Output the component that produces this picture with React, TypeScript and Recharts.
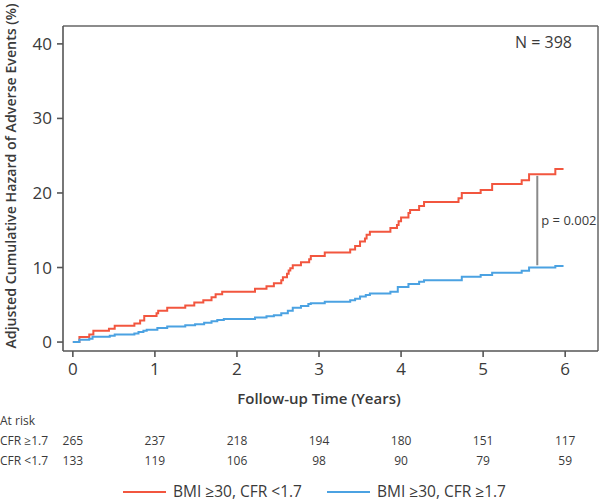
import { Line, LineChart, ReferenceLine, XAxis, YAxis } from "recharts";

const FONT = "'Open Sans', sans-serif";
const INK = "#3a3a3a";
const RED = "#f2563f";
const BLUE = "#4ba2e2";

const yearTicks = [0, 1, 2, 3, 4, 5, 6];
const hazardTicks = [0, 10, 20, 30, 40];

// BMI >=30, CFR <1.7 (red)
const redYears = [
  0, 0.08, 0.2, 0.25, 0.44, 0.51, 0.75, 0.82, 0.87, 1.02, 1.04, 1.15, 1.37, 1.48,
  1.59, 1.69, 1.74, 1.82, 2.22, 2.36, 2.45, 2.54, 2.56, 2.61, 2.63, 2.65, 2.68,
  2.78, 2.88, 2.9, 3.07, 3.38, 3.44, 3.5, 3.56, 3.58, 3.62, 3.87, 3.95, 3.97, 4.0,
  4.09, 4.11, 4.22, 4.28, 4.7, 4.74, 4.97, 5.11, 5.47, 5.56, 5.88, 5.98,
];
const redHazard = [
  0, 0.67, 1.0, 1.5, 1.8, 2.2, 2.5, 2.9, 3.5, 3.85, 4.2, 4.6, 4.9, 5.3, 5.6, 6.0,
  6.4, 6.75, 7.15, 7.5, 7.9, 8.3, 8.7, 9.15, 9.6, 9.9, 10.3, 10.7, 11.1, 11.55,
  12.0, 12.4, 12.9, 13.5, 13.9, 14.4, 14.8, 15.3, 15.7, 16.2, 16.7, 17.3, 17.7,
  18.25, 18.8, 19.3, 20.0, 20.4, 21.2, 21.7, 22.5, 23.2, 23.2,
];

// BMI >=30, CFR >=1.7 (blue)
const blueYears = [
  0, 0.08, 0.2, 0.24, 0.45, 0.51, 0.75, 0.8, 0.86, 0.9, 1.03, 1.15, 1.37, 1.49,
  1.6, 1.69, 1.76, 1.84, 2.22, 2.36, 2.45, 2.54, 2.62, 2.68, 2.78, 2.87, 2.9, 3.07,
  3.38, 3.44, 3.5, 3.57, 3.62, 3.87, 3.96, 4.09, 4.22, 4.28, 4.74, 4.97, 5.11,
  5.47, 5.56, 5.88, 5.98,
];
const blueHazard = [
  0, 0.3, 0.45, 0.7, 0.85, 1.0, 1.15, 1.35, 1.5, 1.65, 1.9, 2.1, 2.25, 2.4, 2.6,
  2.8, 2.95, 3.1, 3.3, 3.45, 3.6, 3.85, 4.2, 4.6, 4.85, 5.1, 5.2, 5.4, 5.6, 5.8,
  6.1, 6.3, 6.5, 6.75, 7.4, 7.8, 8.1, 8.3, 8.75, 9.0, 9.3, 9.55, 10.0, 10.2, 10.2,
];

const riskHighCfr = [265, 237, 218, 194, 180, 151, 117];
const riskLowCfr = [133, 119, 106, 98, 90, 79, 59];

const pYear = 5.66;
const pTop = 22.3;
const pBottom = 10.3;

const X_DOMAIN: [number, number] = [-0.12, 6.4];
const Y_DOMAIN: [number, number] = [-1.2, 42.4];

const redData = redYears.map((t, i) => ({ t, v: redHazard[i] }));
const blueData = blueYears.map((t, i) => ({ t, v: blueHazard[i] }));

// plot area in page pixels, used to line the at-risk numbers up with the x ticks
const PLOT_LEFT = 63;
const PLOT_RIGHT = 598;
const xPx = (t: number) =>
  PLOT_LEFT + ((t - X_DOMAIN[0]) / (X_DOMAIN[1] - X_DOMAIN[0])) * (PLOT_RIGHT - PLOT_LEFT);

const axisStroke = { stroke: "#555", strokeWidth: 1.6 };

function YLabel() {
  return (
    <text
      transform="translate(16,176) rotate(-90)"
      textAnchor="middle"
      fill={INK}
      fontSize={14.2}
      fontWeight={600}
      fontFamily={FONT}
    >
      Adjusted Cumulative Hazard of Adverse Events (%)
    </text>
  );
}

function XLabel() {
  return (
    <text
      x={xPx(3)}
      y={404}
      textAnchor="middle"
      fill={INK}
      fontSize={15}
      fontWeight={600}
      fontFamily={FONT}
    >
      Follow-up Time (Years)
    </text>
  );
}

export default function App() {
  return (
    <div
      style={{
        position: "absolute",
        left: 0,
        top: 0,
        width: 600,
        height: 501,
        background: "#fff",
        fontFamily: FONT,
      }}
    >
      <LineChart
        width={600}
        height={410}
        margin={{ top: 26, right: 2, bottom: 0, left: 0 }}
        style={{ fontFamily: FONT }}
      >
        <XAxis
          type="number"
          dataKey="t"
          domain={X_DOMAIN}
          ticks={yearTicks}
          allowDataOverflow
          height={59}
          tickSize={6}
          tickMargin={6}
          axisLine={axisStroke}
          tickLine={axisStroke}
          tick={{ fill: INK, fontSize: 17 }}
          label={<XLabel />}
        />
        <YAxis
          type="number"
          dataKey="v"
          domain={Y_DOMAIN}
          ticks={hazardTicks}
          allowDataOverflow
          width={63}
          tickSize={6}
          tickMargin={5}
          axisLine={axisStroke}
          tickLine={axisStroke}
          tick={{ fill: INK, fontSize: 17 }}
          label={<YLabel />}
        />
        <ReferenceLine y={Y_DOMAIN[1]} stroke="#666" strokeWidth={1.5} />
        <ReferenceLine x={X_DOMAIN[1]} stroke="#666" strokeWidth={1.5} />
        <Line
          data={redData}
          dataKey="v"
          type="stepAfter"
          stroke={RED}
          strokeWidth={2}
          dot={false}
          isAnimationActive={false}
        />
        <Line
          data={blueData}
          dataKey="v"
          type="stepAfter"
          stroke={BLUE}
          strokeWidth={2}
          dot={false}
          isAnimationActive={false}
        />
        <ReferenceLine
          segment={[
            { x: pYear, y: pTop },
            { x: pYear, y: pBottom },
          ]}
          stroke="#8a8a8a"
          strokeWidth={2}
          label={{
            value: "p = 0.002",
            position: "right",
            offset: 4,
            fill: INK,
            fontSize: 13,
          }}
        />
      </LineChart>
      <svg
        width={600}
        height={501}
        style={{ position: "absolute", left: 0, top: 0, pointerEvents: "none" }}
        fontFamily={FONT}
        fill={INK}
      >
        <text x={572} y={48} textAnchor="end" fontSize={16}>
          N = 398
        </text>
        <text x={0} y={425} fontSize={12}>
          At risk
        </text>
        <text x={0} y={445} fontSize={12}>
          CFR ≥1.7
        </text>
        <text x={0} y={465} fontSize={12}>
          CFR &lt;1.7
        </text>
        {riskHighCfr.map((n, i) => (
          <text key={"h" + i} x={xPx(yearTicks[i])} y={445} textAnchor="middle" fontSize={12}>
            {n}
          </text>
        ))}
        {riskLowCfr.map((n, i) => (
          <text key={"l" + i} x={xPx(yearTicks[i])} y={465} textAnchor="middle" fontSize={12}>
            {n}
          </text>
        ))}
        <line x1={123} x2={166} y1={492} y2={492} stroke={RED} strokeWidth={2} />
        <text x={173} y={496.5} fontSize={15.5}>
          BMI ≥30, CFR &lt;1.7
        </text>
        <line x1={327} x2={370} y1={492} y2={492} stroke={BLUE} strokeWidth={2} />
        <text x={377} y={496.5} fontSize={15.5}>
          BMI ≥30, CFR ≥1.7
        </text>
      </svg>
    </div>
  );
}
